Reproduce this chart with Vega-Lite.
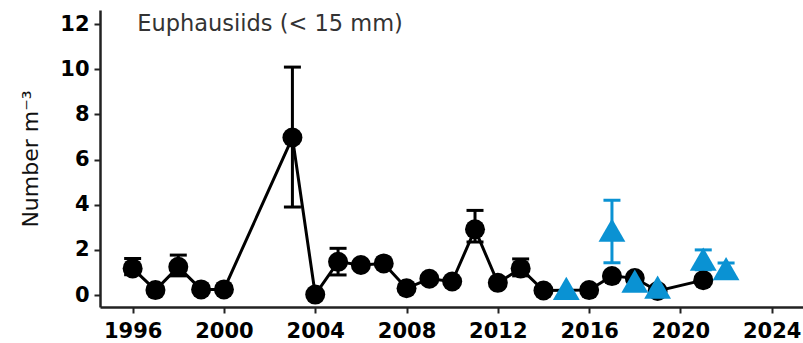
{
  "$schema": "https://vega.github.io/schema/vega-lite/v6.json",
  "width": 703,
  "height": 297,
  "autosize": {"type": "none"},
  "padding": {"left": 100, "top": 10, "right": 0, "bottom": 36},
  "background": "white",
  "config": {
    "view": {"stroke": null},
    "axis": {
      "grid": false,
      "domainColor": "#222222",
      "domainWidth": 2.5,
      "tickColor": "#222222",
      "tickWidth": 2,
      "tickSize": 6,
      "labelFont": "DejaVu Sans",
      "labelFontSize": 21,
      "labelFontWeight": "bold",
      "labelColor": "#000000",
      "titleFont": "DejaVu Sans",
      "titleFontSize": 22,
      "titleFontWeight": "normal",
      "titleColor": "#111111"
    }
  },
  "datasets": {
    "counts": [
      {"year": 1996, "value": 1.18, "lo": 0.9, "hi": 1.62, "series": "A"},
      {"year": 1997, "value": 0.22, "series": "A"},
      {"year": 1998, "value": 1.25, "lo": 0.85, "hi": 1.77, "series": "A"},
      {"year": 1999, "value": 0.25, "series": "A"},
      {"year": 2000, "value": 0.25, "series": "A"},
      {"year": 2003, "value": 6.98, "lo": 3.9, "hi": 10.1, "series": "A"},
      {"year": 2004, "value": 0.02, "series": "A"},
      {"year": 2005, "value": 1.47, "lo": 0.89, "hi": 2.07, "series": "A"},
      {"year": 2006, "value": 1.33, "series": "A"},
      {"year": 2007, "value": 1.4, "series": "A"},
      {"year": 2008, "value": 0.3, "series": "A"},
      {"year": 2009, "value": 0.72, "series": "A"},
      {"year": 2010, "value": 0.6, "series": "A"},
      {"year": 2011, "value": 2.91, "lo": 2.35, "hi": 3.75, "series": "A"},
      {"year": 2012, "value": 0.54, "series": "A"},
      {"year": 2013, "value": 1.18, "lo": 0.85, "hi": 1.6, "series": "A"},
      {"year": 2014, "value": 0.2, "series": "A"},
      {"year": 2016, "value": 0.22, "series": "A"},
      {"year": 2017, "value": 0.84, "series": "A"},
      {"year": 2018, "value": 0.75, "series": "A"},
      {"year": 2019, "value": 0.18, "series": "A"},
      {"year": 2021, "value": 0.66, "series": "A"},
      {"year": 2015, "value": 0.3, "series": "B"},
      {"year": 2017, "value": 2.88, "lo": 1.43, "hi": 4.2, "series": "B"},
      {"year": 2018, "value": 0.62, "series": "B"},
      {"year": 2019, "value": 0.35, "series": "B"},
      {"year": 2021, "value": 1.59, "lo": 1.12, "hi": 2.0, "series": "B"},
      {"year": 2022, "value": 1.17, "lo": 0.85, "hi": 1.42, "series": "B"}
    ],
    "label": [
      {"year": 1996.2, "value": 12, "text": "Euphausiids (< 15 mm)"}
    ]
  },
  "layer": [
    {
      "data": {"name": "counts"},
      "transform": [{"filter": "datum.series === 'A'"}],
      "mark": {"type": "line", "color": "#000000", "strokeWidth": 3},
      "encoding": {
        "x": {
          "field": "year", "type": "quantitative",
          "scale": {"domain": [1994.57, 2025.37], "nice": false, "zero": false},
          "axis": {"values": [1996, 2000, 2004, 2008, 2012, 2016, 2020, 2024], "format": "d", "labelPadding": 7, "title": null}
        },
        "y": {
          "field": "value", "type": "quantitative",
          "scale": {"domain": [-0.53, 12.63], "nice": false, "zero": false},
          "axis": {"values": [0, 2, 4, 6, 8, 10, 12], "labelPadding": 5, "title": "Number m⁻³", "titlePadding": 17}
        },
        "order": {"field": "year", "type": "quantitative"}
      }
    },
    {
      "data": {"name": "counts"},
      "transform": [{"filter": "isValid(datum.hi)"}],
      "mark": {"type": "rule", "strokeWidth": 3},
      "encoding": {
        "x": {"field": "year", "type": "quantitative"},
        "y": {"field": "lo", "type": "quantitative"},
        "y2": {"field": "hi"},
        "color": {"field": "series", "type": "nominal", "scale": {"domain": ["A", "B"], "range": ["#000000", "#0a92d3"]}, "legend": null}
      }
    },
    {
      "data": {"name": "counts"},
      "transform": [{"filter": "isValid(datum.hi)"}],
      "mark": {"type": "tick", "orient": "horizontal", "size": 17, "thickness": 3, "opacity": 1},
      "encoding": {
        "x": {"field": "year", "type": "quantitative"},
        "y": {"field": "hi", "type": "quantitative"},
        "color": {"field": "series", "type": "nominal", "legend": null}
      }
    },
    {
      "data": {"name": "counts"},
      "transform": [{"filter": "isValid(datum.lo)"}],
      "mark": {"type": "tick", "orient": "horizontal", "size": 17, "thickness": 3, "opacity": 1},
      "encoding": {
        "x": {"field": "year", "type": "quantitative"},
        "y": {"field": "lo", "type": "quantitative"},
        "color": {"field": "series", "type": "nominal", "legend": null}
      }
    },
    {
      "data": {"name": "counts"},
      "transform": [{"filter": "datum.series === 'A'"}],
      "mark": {"type": "point", "shape": "circle", "filled": true, "size": 400, "color": "#000000", "opacity": 1},
      "encoding": {
        "x": {"field": "year", "type": "quantitative"},
        "y": {"field": "value", "type": "quantitative"}
      }
    },
    {
      "data": {"name": "counts"},
      "transform": [{"filter": "datum.series === 'B'"}],
      "mark": {"type": "point", "shape": "triangle-up", "filled": true, "size": 720, "color": "#0a92d3", "opacity": 1},
      "encoding": {
        "x": {"field": "year", "type": "quantitative"},
        "y": {"field": "value", "type": "quantitative"}
      }
    },
    {
      "data": {"name": "label"},
      "mark": {"type": "text", "align": "left", "baseline": "middle", "font": "DejaVu Sans", "fontSize": 22.5, "color": "#333333"},
      "encoding": {
        "x": {"field": "year", "type": "quantitative"},
        "y": {"field": "value", "type": "quantitative"},
        "text": {"field": "text"}
      }
    }
  ]
}
